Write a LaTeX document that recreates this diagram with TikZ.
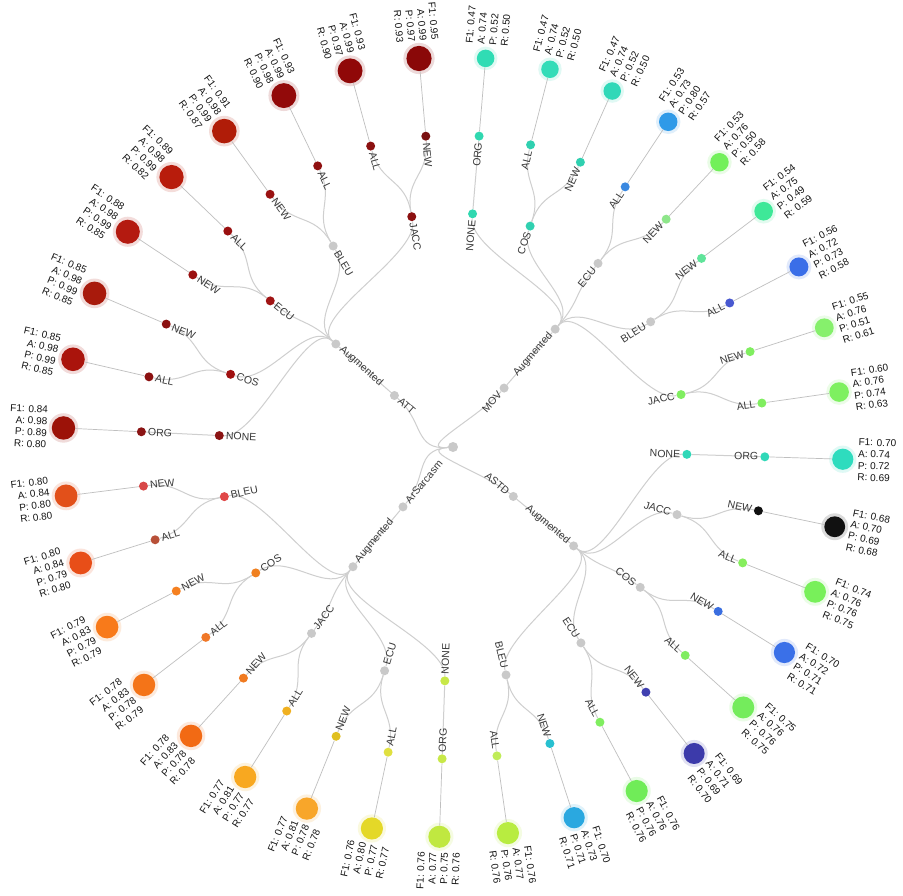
\documentclass[tikz,border=0pt]{standalone}
\usepackage{fontspec}
\setmainfont{Liberation Sans}
\pgfdeclarelayer{back}
\pgfdeclarelayer{bg}
\pgfsetlayers{back,bg,main}
\definecolor{colgray}{HTML}{C9C9C9}
\tikzset{
  dot/.style={circle, inner sep=0pt, minimum size=9pt, draw=none},
  link/.style={draw=black!19, line width=1pt},
  txt/.style={inner sep=0pt, font=\fontsize{10.5}{12}\selectfont, text=black!78},
  ltxt/.style={inner sep=0pt, font=\fontsize{10}{11.7}\selectfont, text=black!92},
}
% label of an inner node: name, angle, radius, text
\newcommand\placelabel[4]{%
  \pgfmathtruncatemacro\rside{cos(#2)>0}%
  \ifnum\rside=1\relax
    \node[txt, rotate=#2, anchor=east] (#1) at (#2:#3) {#4};
  \else
    \node[txt, rotate=#2-180, anchor=west] (#1) at (#2:#3) {#4};
  \fi}
% inner node: name, parent, angle, parent angle, depth, colour (HTML), label
\newcommand\tn[7]{%
  \pgfmathsetmacro\tnR{#5*78}%
  \pgfmathsetmacro\tnM{(#5-0.5)*78}%
  \pgfmathsetmacro\tnL{#5*78-6.5}%
  \definecolor{col#1}{HTML}{#6}%
  \node[dot, fill=col#1] (#1) at (#3:\tnR) {};
  \begin{pgfonlayer}{bg}
    \draw[link] (#2) .. controls (#4:\tnM) and (#3:\tnM) .. (#1);
  \end{pgfonlayer}
  \placelabel{#1t}{#3}{\tnL}{#7}}
% leaf: name, parent, angle, colour (HTML), F1, A, P, R
\newcommand\lf[8]{%
  \pgfmathsetmacro\lfr{5+8*#5}%
  \pgfmathsetmacro\lfd{2*\lfr}%
  \pgfmathsetmacro\lfh{\lfr+3}%
  \pgfmathsetmacro\lfl{390+\lfr+4.5}%
  \definecolor{col#1}{HTML}{#4}%
  \node[dot, fill=col#1, minimum size=\lfd pt] (#1) at (#3:390) {};
  \begin{pgfonlayer}{bg}
    \fill[col#1, opacity=0.15] (#3:390) circle (\lfh);
    \draw[link, draw=black!25, line width=0.7pt] (#2) -- (#1);
  \end{pgfonlayer}
  \pgfmathtruncatemacro\rside{cos(#3)>0}%
  \ifnum\rside=1\relax
    \node[ltxt, rotate=#3, anchor=west, align=left] (#1t) at (#3:\lfl) {F1: #5\\A: #6\\P: #7\\R: #8};
  \else
    \node[ltxt, rotate=#3-180, anchor=east, align=right] (#1t) at (#3:\lfl) {F1: #5\\A: #6\\P: #7\\R: #8};
  \fi}
\begin{document}
\begin{tikzpicture}[x=1pt,y=1pt]
\begin{pgfonlayer}{back}
\fill[white] (-453,-448) rectangle (450,447);
\end{pgfonlayer}
\useasboundingbox (-453,-448) rectangle (450,447);
\node[dot, fill=colgray, minimum size=10pt] (root) at (0,0) {};
% ---------------- ATT ----------------
\tn{att}{root}{138.675}{184.86}{1}{C9C9C9}{ATT}
\tn{attA}{att}{138.675}{138.675}{2}{C9C9C9}{Augmented}
\tn{attN}{attA}{177.2}{138.675}{3}{8B1414}{NONE}
\tn{attNo}{attN}{177.2}{177.2}{4}{8B1414}{ORG}
\lf{attNoL}{attNo}{177.2}{9C1208}{0.84}{0.98}{0.89}{0.80}
\tn{attC}{attA}{161.9}{138.675}{3}{A01010}{COS}
\tn{attCn}{attC}{156.8}{161.9}{4}{8B1010}{NEW}
\lf{attCnL}{attCn}{156.8}{A81A0C}{0.85}{0.98}{0.99}{0.85}
\tn{attCa}{attC}{167}{161.9}{4}{8B1010}{ALL}
\lf{attCaL}{attCa}{167}{AA140C}{0.85}{0.98}{0.99}{0.85}
\tn{attE}{attA}{141.35}{138.675}{3}{A01414}{ECU}
\tn{attEa}{attE}{136.2}{141.35}{4}{9A1010}{ALL}
\lf{attEaL}{attEa}{136.2}{B81C0C}{0.89}{0.98}{0.99}{0.82}
\tn{attEn}{attE}{146.5}{141.35}{4}{9A1010}{NEW}
\lf{attEnL}{attEn}{146.5}{B41A10}{0.88}{0.98}{0.99}{0.85}
\tn{attB}{attA}{120.8}{138.675}{3}{C9C9C9}{BLEU}
\tn{attBa}{attB}{115.7}{120.8}{4}{8F1010}{ALL}
\lf{attBaL}{attBa}{115.7}{920A0A}{0.93}{0.99}{0.98}{0.90}
\tn{attBn}{attB}{125.9}{120.8}{4}{9A1212}{NEW}
\lf{attBnL}{attBn}{125.9}{B01C08}{0.91}{0.98}{0.99}{0.87}
\tn{attJ}{attA}{100.15}{138.675}{3}{8B1010}{JACC}
\tn{attJa}{attJ}{105.3}{100.15}{4}{8B1010}{ALL}
\lf{attJaL}{attJa}{105.3}{900808}{0.93}{0.99}{0.97}{0.90}
\tn{attJn}{attJ}{95}{100.15}{4}{7A1010}{NEW}
\lf{attJnL}{attJn}{95}{8A0808}{0.95}{0.99}{0.97}{0.93}
% ---------------- MOV ----------------
\tn{mov}{root}{49.075}{184.86}{1}{C9C9C9}{MOV}
\tn{movA}{mov}{49.075}{49.075}{2}{C9C9C9}{Augmented}
\tn{movN}{movA}{85.2}{49.075}{3}{30D8B0}{NONE}
\tn{movNo}{movN}{85.2}{85.2}{4}{30D8B0}{ORG}
\lf{movNoL}{movNo}{85.2}{30DCB4}{0.47}{0.74}{0.52}{0.50}
\tn{movC}{movA}{70.75}{49.075}{3}{30D0B0}{COS}
\tn{movCa}{movC}{75.6}{70.75}{4}{30D0B0}{ALL}
\lf{movCaL}{movCa}{75.6}{33DCB8}{0.47}{0.74}{0.52}{0.50}
\tn{movCn}{movC}{65.9}{70.75}{4}{30D0B0}{NEW}
\lf{movCnL}{movCn}{65.9}{30D8B8}{0.47}{0.74}{0.52}{0.50}
\tn{movE}{movA}{51.7}{49.075}{3}{C9C9C9}{ECU}
\tn{movEa}{movE}{56.5}{51.7}{4}{3A88E0}{ALL}
\lf{movEaL}{movEa}{56.5}{2F9AE8}{0.53}{0.73}{0.80}{0.57}
\tn{movEn}{movE}{46.9}{51.7}{4}{8EE68A}{NEW}
\lf{movEnL}{movEn}{46.9}{72F05A}{0.53}{0.76}{0.50}{0.58}
\tn{movB}{movA}{32.35}{49.075}{3}{C9C9C9}{BLEU}
\tn{movBn}{movB}{37.2}{32.35}{4}{60E49A}{NEW}
\lf{movBnL}{movBn}{37.2}{3EE898}{0.54}{0.75}{0.49}{0.59}
\tn{movBa}{movB}{27.5}{32.35}{4}{4858D0}{ALL}
\lf{movBaL}{movBa}{27.5}{3A6EE8}{0.56}{0.72}{0.73}{0.58}
\tn{movJ}{movA}{12.95}{49.075}{3}{80EE60}{JACC}
\tn{movJn}{movJ}{17.8}{12.95}{4}{80EE60}{NEW}
\lf{movJnL}{movJn}{17.8}{86F06C}{0.55}{0.76}{0.51}{0.61}
\tn{movJa}{movJ}{8.1}{12.95}{4}{80EE60}{ALL}
\lf{movJaL}{movJa}{8.1}{7EF060}{0.60}{0.76}{0.74}{0.63}
% ---------------- ASTD ----------------
\tn{astd}{root}{320.65}{184.86}{1}{C9C9C9}{ASTD}
\tn{astdA}{astd}{320.65}{320.65}{2}{C9C9C9}{Augmented}
\tn{astdN}{astdA}{358.2}{320.65}{3}{30D8B8}{NONE}
\tn{astdNo}{astdN}{358.2}{358.2}{4}{30D8B8}{ORG}
\lf{astdNoL}{astdNo}{358.2}{2EDCBE}{0.70}{0.74}{0.72}{0.69}
\tn{astdJ}{astdA}{343.2}{320.65}{3}{C9C9C9}{JACC}
\tn{astdJn}{astdJ}{348.2}{343.2}{4}{111111}{NEW}
\lf{astdJnL}{astdJn}{348.2}{111111}{0.68}{0.70}{0.69}{0.68}
\tn{astdJa}{astdJ}{338.2}{343.2}{4}{86EE5E}{ALL}
\lf{astdJaL}{astdJa}{338.2}{78F05A}{0.74}{0.76}{0.76}{0.75}
\tn{astdC}{astdA}{323.15}{320.65}{3}{C9C9C9}{COS}
\tn{astdCn}{astdC}{328.2}{323.15}{4}{3A6EE0}{NEW}
\lf{astdCnL}{astdCn}{328.2}{3A70E8}{0.70}{0.72}{0.71}{0.71}
\tn{astdCa}{astdC}{318.1}{323.15}{4}{80EC60}{ALL}
\lf{astdCaL}{astdCa}{318.1}{74EC5C}{0.75}{0.76}{0.76}{0.75}
\tn{astdE}{astdA}{303.15}{320.65}{3}{C9C9C9}{ECU}
\tn{astdEn}{astdE}{308.2}{303.15}{4}{4040B0}{NEW}
\lf{astdEnL}{astdEn}{308.2}{3C3AAA}{0.69}{0.71}{0.69}{0.70}
\tn{astdEa}{astdE}{298.1}{303.15}{4}{80EE60}{ALL}
\lf{astdEaL}{astdEa}{298.1}{70EC58}{0.76}{0.76}{0.76}{0.76}
\tn{astdB}{astdA}{283.1}{320.65}{3}{C9C9C9}{BLEU}
\tn{astdBn}{astdB}{288.1}{283.1}{4}{28C0D0}{NEW}
\lf{astdBnL}{astdBn}{288.1}{2AA8E0}{0.70}{0.73}{0.71}{0.71}
\tn{astdBa}{astdB}{278.1}{283.1}{4}{C0EC58}{ALL}
\lf{astdBaL}{astdBa}{278.1}{B8EC40}{0.76}{0.77}{0.76}{0.76}
% ---------------- ArSarcasm ----------------
\tn{ars}{root}{230.125}{184.86}{1}{C9C9C9}{ArSarcasm}
\tn{arsA}{ars}{230.125}{230.125}{2}{C9C9C9}{Augmented}
\tn{arsB}{arsA}{192.25}{230.125}{3}{E04848}{BLEU}
\tn{arsBn}{arsB}{187.2}{192.25}{4}{D84848}{NEW}
\lf{arsBnL}{arsBn}{187.2}{E2501A}{0.80}{0.84}{0.80}{0.80}
\tn{arsBa}{arsB}{197.3}{192.25}{4}{B85038}{ALL}
\lf{arsBaL}{arsBa}{197.3}{E84E18}{0.80}{0.84}{0.79}{0.80}
\tn{arsC}{arsA}{212.55}{230.125}{3}{F08020}{COS}
\tn{arsCn}{arsC}{207.5}{212.55}{4}{F58020}{NEW}
\lf{arsCnL}{arsCn}{207.5}{F87A1A}{0.79}{0.83}{0.79}{0.79}
\tn{arsCa}{arsC}{217.6}{212.55}{4}{F07828}{ALL}
\lf{arsCaL}{arsCa}{217.6}{F47418}{0.78}{0.83}{0.78}{0.79}
\tn{arsJ}{arsA}{232.8}{230.125}{3}{C9C9C9}{JACC}
\tn{arsJn}{arsJ}{227.8}{232.8}{4}{F07A20}{NEW}
\lf{arsJnL}{arsJn}{227.8}{F26A14}{0.78}{0.83}{0.78}{0.78}
\tn{arsJa}{arsJ}{237.8}{232.8}{4}{F0B020}{ALL}
\lf{arsJaL}{arsJa}{237.8}{F8A820}{0.77}{0.81}{0.77}{0.77}
\tn{arsE}{arsA}{253}{230.125}{3}{C9C9C9}{ECU}
\tn{arsEn}{arsE}{248}{253}{4}{E0C020}{NEW}
\lf{arsEnL}{arsEn}{248}{F8A62A}{0.77}{0.81}{0.78}{0.78}
\tn{arsEa}{arsE}{258}{253}{4}{E0E040}{ALL}
\lf{arsEaL}{arsEa}{258}{E4D828}{0.76}{0.80}{0.77}{0.77}
\tn{arsN}{arsA}{268}{230.125}{3}{C8E848}{NONE}
\tn{arsNo}{arsN}{268}{268}{4}{C8E848}{ORG}
\lf{arsNoL}{arsNo}{268}{C0E840}{0.76}{0.77}{0.75}{0.76}
\end{tikzpicture}
\end{document}
